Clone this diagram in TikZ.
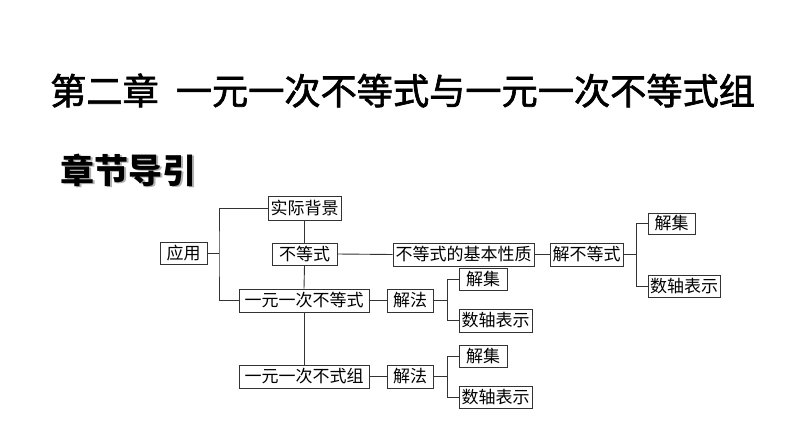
\documentclass[tikz,border=0pt]{standalone}
\usepackage{fontspec}
\newfontfamily\cjk{Noto Sans CJK SC}
\newfontfamily\cjkmed[FakeBold=1.8]{Noto Sans CJK SC}
\begin{document}
\begin{tikzpicture}[x=1pt,y=-1pt,
  box/.style={draw=black!80, line width=0.9pt, minimum height=23pt, inner sep=0pt, font=\cjk\fontsize{17}{17}\selectfont},
  conn/.style={draw=black!80, line width=0.9pt}]
\fill[white] (0,0) rectangle (794,447);
\useasboundingbox (0,0) rectangle (794,447);
% titles
\node[anchor=west, inner sep=0pt, font=\cjkmed\fontsize{36.2}{36.2}\selectfont] (title) at (50,90.5) {第二章\hspace{17pt}一元一次不等式与一元一次不等式组};
\node[anchor=west, inner sep=0pt, text=black!30, font=\cjk\bfseries\fontsize{34}{34}\selectfont] (subshadow) at (62,171.5) {章节导引};
\node[anchor=west, inner sep=0pt, font=\cjk\bfseries\fontsize{34}{34}\selectfont] (sub) at (60.5,170) {章节导引};
% boxes
\node[box, minimum width=47pt, minimum height=22pt] (ying) at (183.5,253.5) {应用};
\node[box, minimum width=73pt, minimum height=24pt] (shiji) at (304.5,208) {实际背景};
\node[box, minimum width=65pt, minimum height=22pt] (bdsh) at (304.5,254) {不等式};
\node[box, minimum width=141pt] (xingzhi) at (463.5,254.5) {不等式的基本性质};
\node[box, minimum width=73pt] (jbds) at (586.5,254.5) {解不等式};
\node[box, minimum width=47pt, minimum height=21pt] (jj1) at (671.5,223.5) {解集};
\node[box, minimum width=72pt, minimum height=22pt] (sz1) at (684,286) {数轴表示};
\node[box, minimum width=130pt] (yyb) at (304,300.5) {一元一次不等式};
\node[box, minimum width=46pt] (jf1) at (410,300.5) {解法};
\node[box, minimum width=48pt, minimum height=22pt] (jj2) at (483,279.5) {解集};
\node[box, minimum width=73pt] (sz2) at (495.5,320.5) {数轴表示};
\node[box, minimum width=130pt] (yyz) at (304,376.5) {一元一次不式组};
\node[box, minimum width=46pt] (jf2) at (410,376.5) {解法};
\node[box, minimum width=48pt, minimum height=22pt] (jj3) at (483,356) {解集};
\node[box, minimum width=73pt, minimum height=22pt] (sz3) at (495.5,397) {数轴表示};
% branch points
\coordinate (b1) at (219,253.5);
\coordinate (b2) at (636,254.5);
\coordinate (b3) at (447.5,300.5);
\coordinate (b4) at (447.5,376.5);
% connectors
\draw[conn] (ying.east) -- (b1);
\draw[conn] (shiji.west) -| (b1) |- (yyb.west);
\draw[conn] (shiji.south) -- (bdsh.north);
\draw[conn] (bdsh.south) -- (yyb.north);
\draw[conn] (yyb.south) -- (yyz.north);
\draw[conn] (bdsh.east) -- (xingzhi.west);
\draw[conn] (xingzhi.east) -- (jbds.west);
\draw[conn] (jbds.east) -- (b2);
\draw[conn] (jj1.west) -| (b2) |- (sz1.west);
\draw[conn] (yyb.east) -- (jf1.west);
\draw[conn] (jf1.east) -- (b3);
\draw[conn] (jj2.west) -| (b3) |- (sz2.west);
\draw[conn] (yyz.east) -- (jf2.west);
\draw[conn] (jf2.east) -- (b4);
\draw[conn] (jj3.west) -| (b4) |- (sz3.west);
\end{tikzpicture}
\end{document}
